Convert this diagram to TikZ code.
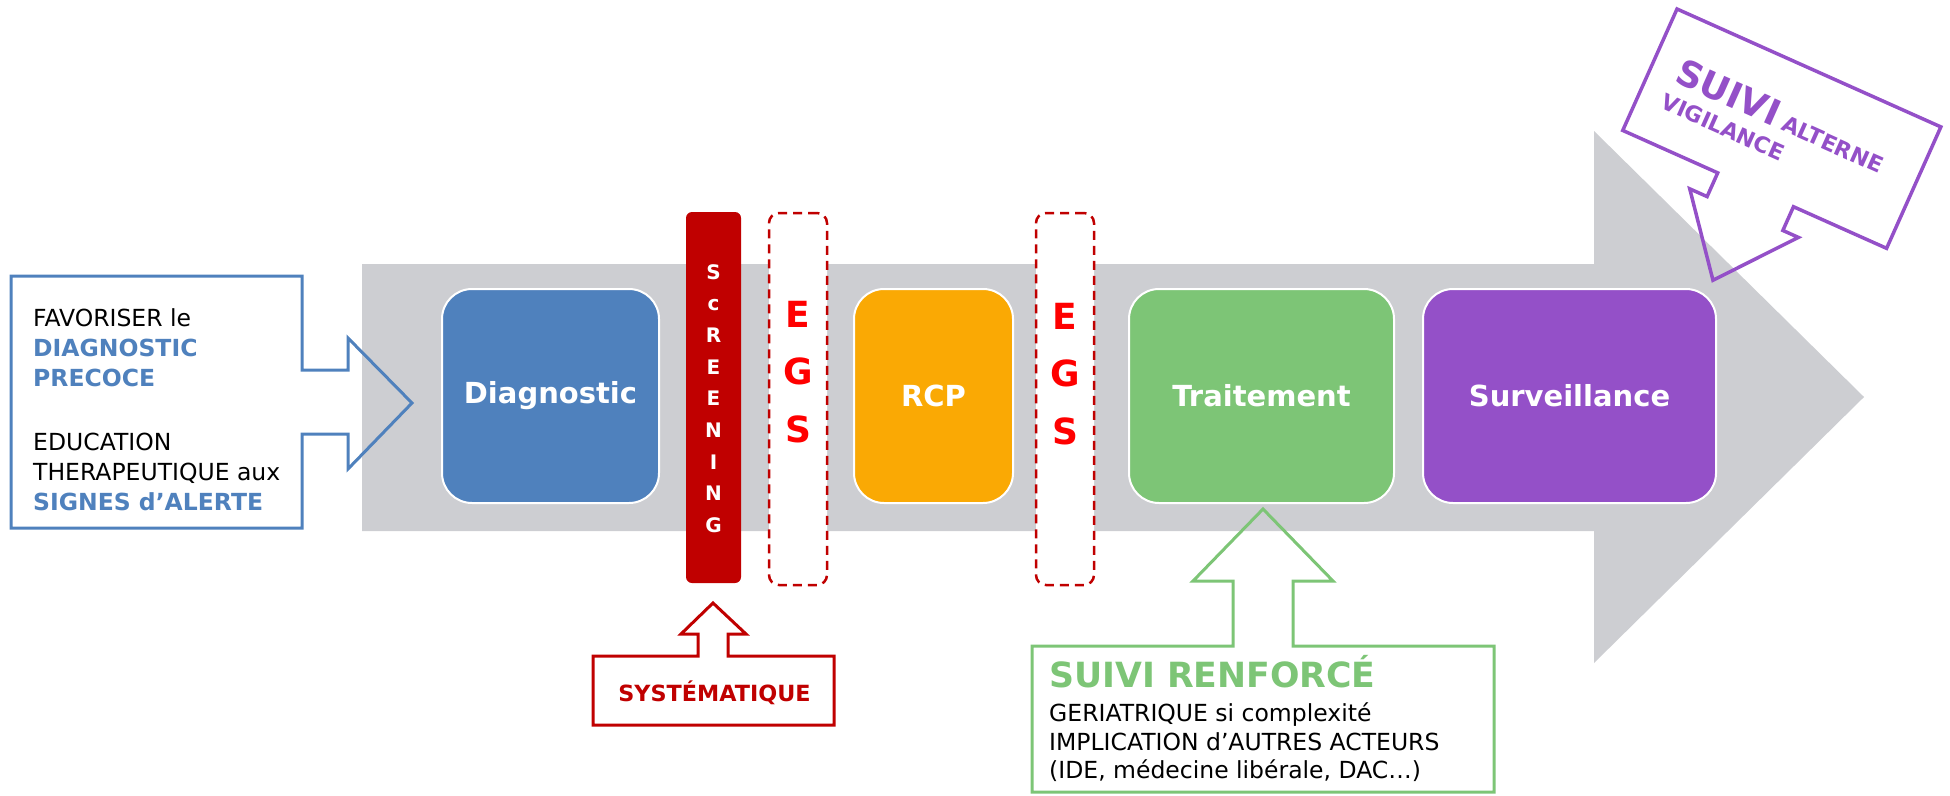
\documentclass[tikz,border=0pt]{standalone}
\usepackage{fontspec}
\setmainfont{DejaVu Sans}
\usetikzlibrary{positioning}
\definecolor{gristrame}{RGB}{205,206,210}
\definecolor{bleudiag}{RGB}{79,129,189}
\definecolor{orangercp}{RGB}{250,169,4}
\definecolor{verttrait}{RGB}{125,197,118}
\definecolor{violetsurv}{RGB}{148,80,200}
\definecolor{rougefonce}{RGB}{192,0,0}
\definecolor{rougevif}{RGB}{255,0,0}
\tikzset{
  etape/.style={
    rounded corners=30pt,
    draw=white,
    line width=2pt,
    minimum height=214pt,
    inner sep=0pt,
    text=white,
    font=\fontsize{29}{34}\selectfont\bfseries
  },
  egs/.style={
    rounded corners=10pt,
    draw=rougefonce,
    fill=white,
    line width=2.5pt,
    dash pattern=on 9pt off 6pt,
    minimum width=58pt,
    minimum height=372pt,
    inner sep=0pt
  },
  lettre/.style={
    anchor=base,
    inner sep=0pt,
    text=rougevif,
    font=\fontsize{36}{36}\selectfont\bfseries
  },
  ecran/.style={
    anchor=base,
    inner sep=0pt,
    text=white,
    font=\fontsize{20}{20}\selectfont\bfseries
  },
  ligne/.style={
    anchor=base west,
    inner sep=0pt,
    font=\fontsize{23.5}{28}\selectfont
  },
  gras/.style={
    ligne,
    font=\fontsize{23.5}{28}\selectfont\bfseries
  },
  bulle/.style={
    line width=3pt,
    line join=miter
  }
}
\begin{document}
\begin{tikzpicture}[x=1pt,y=-1pt]
\useasboundingbox (0,0) rectangle (1950,795);
\fill[gristrame] (362,264) -- (1594,264) -- (1594,131) -- (1864,397)
  -- (1594,663) -- (1594,531) -- (362,531) -- cycle;

\node[etape,fill=bleudiag,minimum width=217pt] (diag) at (550.5,396) {Diagnostic};
\node[etape,fill=orangercp,minimum width=159pt] (rcp) at (933.5,396) {RCP};
\node[etape,fill=verttrait,minimum width=265pt] (trait) at (1261.5,396) {Traitement};
\node[etape,fill=violetsurv,minimum width=293pt] (surv) at (1569.5,396) {Surveillance};

\node[fill=rougefonce,rounded corners=6pt,minimum width=55pt,minimum height=371pt,inner sep=0pt] (scr) at (713.5,397.5) {};
\foreach \ch [count=\i from 0] in {S,c,R,E,E,N,I,N,G}
  \node[ecran] (scr\i) at (713.5,279+31.7*\i) {\ch};

\node[egs] (egsA) at (798,399) {};
\node[egs] (egsB) at (1065,399) {};
\foreach \ch [count=\i from 0] in {E,G,S} {
  \node[lettre] (egsA\i) at (798,327+57.5*\i) {\ch};
  \node[lettre] (egsB\i) at (1065,329+57.5*\i) {\ch};
}

\draw[bulle,draw=bleudiag] (11,276) -- (302,276) -- (302,370) -- (348,370) -- (348,338)
  -- (412,403) -- (348,469) -- (348,434) -- (302,434) -- (302,528) -- (11,528) -- cycle;
\node[ligne] (fav) at (33,326.5) {FAVORISER le};
\node[gras,text=bleudiag] (dp1) at (33,356.5) {DIAGNOSTIC};
\node[gras,text=bleudiag] (dp2) at (33,386.5) {PRECOCE};
\node[ligne] (edu1) at (33,450) {EDUCATION};
\node[ligne] (edu2) at (33,480) {THERAPEUTIQUE aux};
\node[gras,text=bleudiag] (sig) at (33,510) {SIGNES d’ALERTE};

\draw[bulle,draw=rougefonce] (593,656) -- (698,656) -- (698,634) -- (681,634) -- (713,603)
  -- (746,634) -- (728,634) -- (728,656) -- (834,656) -- (834,725) -- (593,725) -- cycle;
\node[anchor=base,inner sep=0pt,text=rougefonce,font=\fontsize{22.3}{26}\selectfont\bfseries] (syst) at (714.5,701) {SYSTÉMATIQUE};

\draw[bulle,draw=verttrait] (1032,646) -- (1233,646) -- (1233,581) -- (1193,581) -- (1263,509)
  -- (1333,581) -- (1293,581) -- (1293,646) -- (1494,646) -- (1494,792) -- (1032,792) -- cycle;
\node[ligne,text=verttrait,font=\fontsize{34.7}{40}\selectfont\bfseries] (renf) at (1049,687) {SUIVI RENFORCÉ};
\node[ligne] (ger) at (1049,721) {GERIATRIQUE si complexité};
\node[ligne] (impl) at (1049,750) {IMPLICATION d’AUTRES ACTEURS};
\node[ligne] (ide) at (1049,778) {(IDE, médecine libérale, DAC…)};

\begin{scope}[shift={(1677,9)},rotate=-24.08,transform shape]
\draw[bulle,line width=3.5pt,draw=violetsurv] (0,0) -- (289,0) -- (289,133) -- (187,133) -- (187,159)
  -- (204,159) -- (143.5,233) -- (85,159) -- (104,159) -- (104,133) -- (0,133) -- cycle;
\node[anchor=base west,inner sep=0pt,text=violetsurv,font=\bfseries] (alt) at (26,68)
  {\fontsize{36}{40}\selectfont SUIVI\fontsize{22}{26}\selectfont{} ALTERNE};
\node[anchor=base west,inner sep=0pt,text=violetsurv,font=\fontsize{22}{26}\selectfont\bfseries] (vig) at (24,97) {VIGILANCE};
\end{scope}
\end{tikzpicture}
\end{document}
